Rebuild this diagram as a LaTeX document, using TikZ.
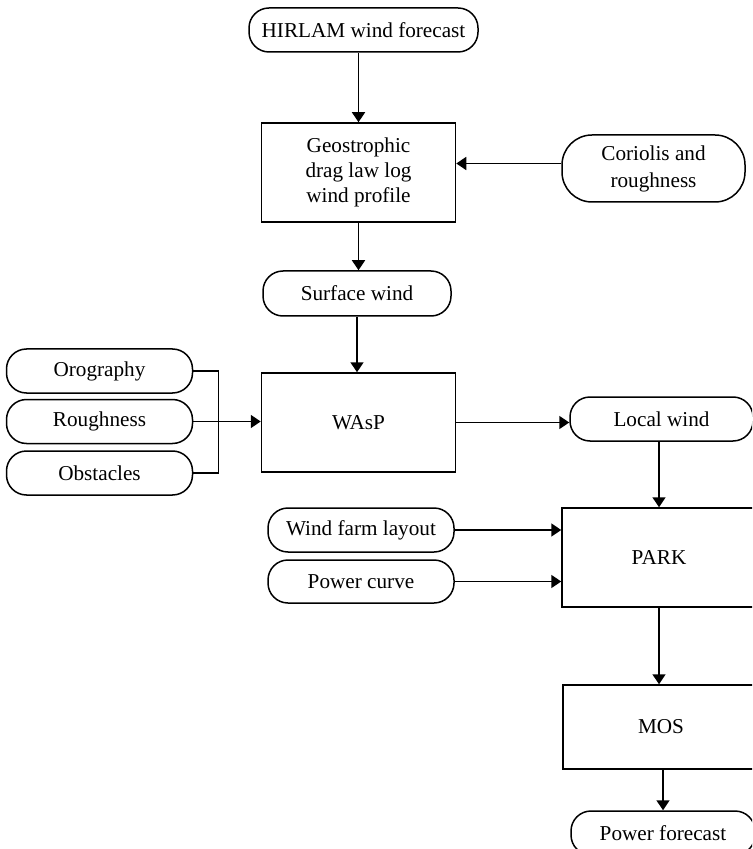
\documentclass[tikz,border=0pt]{standalone}
\usepackage{fontspec}
\setmainfont{Liberation Serif}
\usepackage{tikz}
\usetikzlibrary{arrows.meta}

\tikzset{
	procbox/.style={draw, rectangle, align=center, inner sep=0pt, minimum width=97pt, minimum height=49.5pt},
	databox/.style={draw, rectangle, rounded corners=10pt, align=center, inner sep=0pt, minimum width=93pt, minimum height=22pt},
	flow/.style={-{Triangle[length=5pt,width=6.5pt]}},
}

\begin{document}
\begin{tikzpicture}[x=0.5pt, y=-0.5pt, line width=0.75pt, font=\fontsize{10.6}{12.3}\selectfont]
	\clip (0,0) rectangle (752,849);
	
	% main chain
	\node[databox, minimum width=114.5pt] (hirlam) at (363.5,30) {HIRLAM wind forecast};
	\node[procbox] (geo) at (358.5,172.5) {Geostrophic\\drag law log\\wind profile};
	\node[databox, minimum width=91.5pt, minimum height=33.5pt, rounded corners=15pt, font=\fontsize{10.6}{13.5}\selectfont] (coriolis) at (653.5,168.5) {Coriolis and\\roughness};
	\node[databox, minimum width=94pt, minimum height=22.5pt] (surf) at (357,293.5) {Surface wind};
	\node[procbox] (wasp) at (358.5,422.5) {WAsP};
	
	% terrain inputs
	\node[databox] (oro) at (99.5,371) {Orography};
	\node[databox] (rough) at (99.5,421.5) {Roughness};
	\node[databox] (obst) at (99.5,473) {Obstacles};
	
	\node[databox, minimum width=91.5pt] (local) at (661.5,419) {Local wind};
	\node[procbox] (park) at (659,557.5) {PARK};
	\node[databox] (layout) at (361,530) {Wind farm layout};
	\node[databox, minimum height=21.5pt] (curve) at (361,581.5) {Power curve};
	\node[procbox, minimum width=98pt, minimum height=42pt] (mos) at (661,727) {MOS};
	\node[databox, minimum width=92pt] (pf) at (663,833) {Power forecast};
	
	% connectors
	\draw[flow] (geo.north |- hirlam.south) -- (geo.north);
	\draw[flow] ([yshift=2.5pt]coriolis.west) -- ([yshift=2.5pt]coriolis.west -| geo.east);
	\draw[flow] (geo.south) -- (geo.south |- surf.north);
	\draw[flow] (surf.south) -- (surf.south |- wasp.north);
	
	\draw (oro.east) -- ++(25,0) |- (obst.east);
	\draw[flow] (rough.east) -- (rough.east -| wasp.west);
	
	\draw[flow] (wasp.east) -- (wasp.east -| local.west);
	\draw[flow] (local.south -| park.north) -- (park.north);
	\draw[flow] (layout.east) -- (layout.east -| park.west);
	\draw[flow] (curve.east) -- (curve.east -| park.west);
	\draw[flow] (park.south) -- (park.south |- mos.north);
	\draw[flow] (pf.north |- mos.south) -- (pf.north);
\end{tikzpicture}
\end{document}
